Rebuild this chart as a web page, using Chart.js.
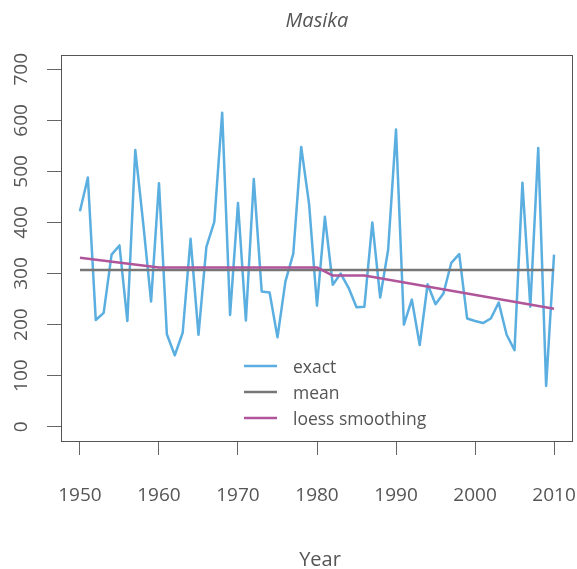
<!DOCTYPE html>
<html>
<head>
<meta charset="utf-8">
<script src="https://cdn.jsdelivr.net/npm/chart.js@4.4.1/dist/chart.umd.min.js"></script>
<style>
html,body{margin:0;padding:0;background:#fff;overflow:hidden}
canvas{display:block}
</style>
</head>
<body>
<canvas id="c" width="577" height="569"></canvas>
<script>
// ---- data ----
const chartTitle = 'Masika';
const xAxisTitle = 'Year';
const seriesLabels = ['exact', 'mean', 'loess smoothing'];

const years = [1950,1951,1952,1953,1954,1955,1956,1957,1958,1959,
               1960,1961,1962,1963,1964,1965,1966,1967,1968,1969,
               1970,1971,1972,1973,1974,1975,1976,1977,1978,1979,
               1980,1981,1982,1983,1984,1985,1986,1987,1988,1989,
               1990,1991,1992,1993,1994,1995,1996,1997,1998,1999,
               2000,2001,2002,2003,2004,2005,2006,2007,2008,2009,
               2010];
const exactValues = [422,488,209,223,337,355,207,542,399,245,
                     477,181,140,184,368,180,352,401,615,219,
                     438,208,485,265,263,175,284,339,548,436,
                     237,411,278,300,272,234,235,400,253,346,
                     582,200,249,160,279,240,261,321,338,212,
                     207,203,212,243,180,150,478,235,546,80,
                     337];
const meanYears = [1950, 2010];
const meanValue = 307;
const loessYears  = [1950, 1960, 1980, 1982, 1986, 2010];
const loessValues = [331, 312, 312, 296, 296, 231];

const xTickLabels = [1950, 1960, 1970, 1980, 1990, 2000, 2010];
const yTickLabels = [0, 100, 200, 300, 400, 500, 600, 700];

// ---- styling ----
const FONT = '"Open Sans", "DejaVu Sans", sans-serif';
const TEXT = '#555555';
const AXIS = '#555555';
const colors = ['#5AAEE0', '#777777', '#B0559A'];

const overlay = {
  id: 'overlay',
  afterDraw(chart) {
    const ctx = chart.ctx;
    const a = chart.chartArea;
    ctx.save();
    // box
    ctx.strokeStyle = AXIS;
    ctx.lineWidth = 1;
    const L = Math.round(a.left) + 0.5, T = Math.round(a.top) + 0.5;
    const R = Math.round(a.right) - 0.5, B = Math.round(a.bottom) + 0.5;
    ctx.strokeRect(L, T, R - L, B - T);
    ctx.fillStyle = TEXT;
    // title
    ctx.font = 'italic 20px ' + FONT;
    ctx.textAlign = 'center';
    ctx.textBaseline = 'alphabetic';
    ctx.fillText(chartTitle, (a.left + a.right) / 2, 27);
    // x axis title
    ctx.font = '20px ' + FONT;
    ctx.fillText(xAxisTitle, (a.left + a.right) / 2 + 3, 566);
    // y tick labels (rotated like R)
    const ys = chart.scales.y;
    ctx.font = '19px ' + FONT;
    ctx.textBaseline = 'middle';
    yTickLabels.forEach(v => {
      const py = ys.getPixelForValue(v);
      ctx.save();
      ctx.translate(22, py);
      ctx.rotate(-Math.PI / 2);
      ctx.fillText(String(v), 0, 0);
      ctx.restore();
    });
    // legend
    const lx1 = 244, lx2 = 277, tx = 293, ry0 = 366, rstep = 26;
    ctx.font = '17.5px ' + FONT;
    ctx.textAlign = 'left';
    ctx.textBaseline = 'alphabetic';
    chart.data.datasets.forEach((ds, i) => {
      const y = ry0 + i * rstep;
      ctx.strokeStyle = ds.borderColor;
      ctx.lineWidth = 2.5;
      ctx.beginPath();
      ctx.moveTo(lx1, y);
      ctx.lineTo(lx2, y);
      ctx.stroke();
      ctx.fillStyle = TEXT;
      ctx.fillText(ds.label, tx, y + 6.5);
    });
    ctx.restore();
  }
};

new Chart(document.getElementById('c'), {
  type: 'line',
  data: {
    datasets: [
      {
        label: seriesLabels[0],
        data: years.map((yr, i) => ({x: yr, y: exactValues[i]})),
        borderColor: colors[0],
        borderWidth: 2.5,
        order: 3
      },
      {
        label: seriesLabels[1],
        data: meanYears.map(yr => ({x: yr, y: meanValue})),
        borderColor: colors[1],
        borderWidth: 2.5,
        order: 2
      },
      {
        label: seriesLabels[2],
        data: loessYears.map((yr, i) => ({x: yr, y: loessValues[i]})),
        borderColor: colors[2],
        borderWidth: 2.5,
        order: 1
      }
    ]
  },
  options: {
    responsive: false,
    animation: false,
    devicePixelRatio: 1,
    elements: {
      point: {radius: 0, hoverRadius: 0},
      line: {tension: 0, fill: false, borderJoinStyle: 'round', borderCapStyle: 'butt'}
    },
    layout: {padding: {top: 55, right: 4, bottom: 0, left: 0}},
    plugins: {legend: {display: false}, tooltip: {enabled: false}, title: {display: false}},
    events: [],
    scales: {
      x: {
        type: 'linear',
        position: 'bottom',
        min: 1947.6,
        max: 2012.4,
        afterBuildTicks(scale) { scale.ticks = xTickLabels.map(v => ({value: v})); },
        afterFit(scale) {
          scale.height = 128;
          scale.paddingLeft = 0; scale.paddingRight = 0;
          scale.paddingTop = 0; scale.paddingBottom = 0;
        },
        grid: {drawOnChartArea: false, drawTicks: true, tickLength: 14, color: '#666666', lineWidth: 1},
        border: {display: false},
        ticks: {
          color: TEXT,
          font: {family: FONT, size: 19},
          padding: 29,
          maxRotation: 0,
          minRotation: 0,
          autoSkip: false,
          callback: v => String(v)
        }
      },
      y: {
        type: 'linear',
        position: 'left',
        min: -28,
        max: 728,
        afterBuildTicks(scale) { scale.ticks = yTickLabels.map(v => ({value: v})); },
        afterFit(scale) {
          scale.width = 61;
          scale.paddingLeft = 0; scale.paddingRight = 0;
          scale.paddingTop = 0; scale.paddingBottom = 0;
        },
        grid: {drawOnChartArea: false, drawTicks: true, tickLength: 14, color: '#666666', lineWidth: 1},
        border: {display: false},
        ticks: {display: false}
      }
    }
  },
  plugins: [overlay]
});
</script>
</body>
</html>
